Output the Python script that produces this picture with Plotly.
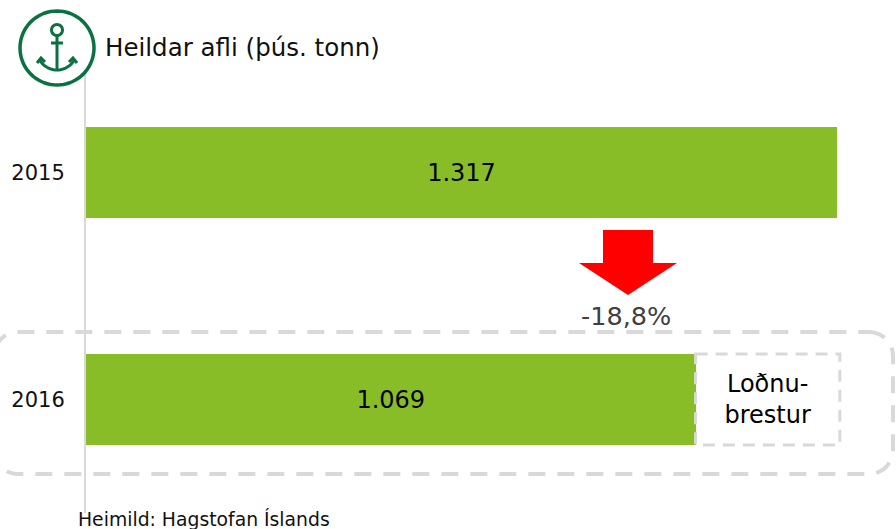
import math
import plotly.graph_objects as go

years = ["2015", "2016"]
catch = [1317, 1069]
catch_labels = ["1.317", "1.069"]
shortfall = [None, 253]
shortfall_labels = ["", "Loðnu-<br>brestur"]
title_text = "Heildar afli (þús. tonn)"
change_text = "-18,8%"
source_text = "Heimild: Hagstofan Íslands"

W, H = 896, 529
L, R, T, B = 86, 0, 59, 16
FONT = "DejaVu Sans, Verdana, sans-serif"
GREEN = "#88bd27"
GREY = "#d9d9d9"
DARK = "#0b7142"
px_per_unit = 751 / 1317


def px(x):
    return (x - L) / (W - L - R)


def py(y):
    return 1 - (y - T) / (H - T - B)


def path(points, close=False):
    s = "M " + " L ".join(f"{px(x):.5f},{py(y):.5f}" for x, y in points)
    return s + (" Z" if close else "")


def rounded(x0, y0, x1, y1, r):
    pts = []
    for cx, cy, a0 in [(x1 - r, y0 + r, -90), (x1 - r, y1 - r, 0), (x0 + r, y1 - r, 90), (x0 + r, y0 + r, 180)]:
        for i in range(13):
            a = math.radians(a0 + i * 7.5)
            pts.append((cx + r * math.cos(a), cy + r * math.sin(a)))
    return path(pts, True)


def arc(cx, cy, r, a0, a1, n=24):
    return [(cx + r * math.cos(math.radians(a0 + (a1 - a0) * i / n)),
             cy + r * math.sin(math.radians(a0 + (a1 - a0) * i / n))) for i in range(n + 1)]


def page_shape(d, color=None, width=0, fill=None, dash=None):
    return dict(type="path", xref="paper", yref="paper", path=d,
                line=dict(color=color or "rgba(0,0,0,0)", width=width, dash=dash),
                fillcolor=fill or "rgba(0,0,0,0)")


fig = go.Figure()
fig.add_bar(y=years, x=catch, orientation="h", marker=dict(color=GREEN, line_width=0),
            text=catch_labels, textposition="inside", insidetextanchor="middle", textangle=0,
            textfont=dict(size=24, color="#000000", family=FONT), hoverinfo="skip")
fig.add_bar(y=years, x=shortfall, orientation="h", marker=dict(color="rgba(255,255,255,0)", line_width=0),
            text=shortfall_labels, textposition="inside", insidetextanchor="middle", textangle=0,
            textfont=dict(size=24, color="#000000", family=FONT), hoverinfo="skip")

shapes = [
    dict(type="rect", xref="x", yref="y", x0=catch[1], x1=catch[1] + shortfall[1], y0=0.8, y1=1.2,
         line=dict(color=GREY, width=3, dash="12px,8px")),
    page_shape(rounded(-6, 332, 893, 474, 24), color=GREY, width=4, dash="17px,12px"),
    page_shape(path([(603, 230), (653, 230), (653, 263), (677, 263), (628, 295), (579, 263), (603, 263)], True),
               fill="#ff0000"),
    page_shape(path(arc(57, 48, 37, 0, 360, 72), True), color=DARK, width=3.5, fill="#ffffff"),
    page_shape(path(arc(57, 30, 5.5, 0, 360, 32), True), color=DARK, width=3),
    page_shape(path([(57, 36), (57, 70)]), color=DARK, width=3),
    page_shape(path([(51, 43), (63, 43)]), color=DARK, width=3),
    page_shape(path(arc(57, 50, 20, 150, 30)), color=DARK, width=3),
    page_shape(path([(37, 63), (41, 58), (45, 62)]), color=DARK, width=3),
    page_shape(path([(69, 62), (73, 58), (77, 63)]), color=DARK, width=3),
]

annotations = [
    dict(text=title_text, xref="paper", yref="paper", x=px(103), y=py(48), xanchor="left", yanchor="middle",
         showarrow=False, font=dict(size=24.5, color="#111111", family=FONT)),
    dict(text=change_text, xref="paper", yref="paper", x=px(626), y=py(316), xanchor="center", yanchor="middle",
         showarrow=False, font=dict(size=25.5, color="#404040", family=FONT)),
    dict(text=source_text, xref="paper", yref="paper", x=px(76), y=py(519), xanchor="left", yanchor="middle",
         showarrow=False, font=dict(size=18.8, color="#111111", family=FONT)),
]

fig.update_layout(
    width=W, height=H, margin=dict(l=L, r=R, t=T, b=B, autoexpand=False),
    paper_bgcolor="white", plot_bgcolor="white", barmode="stack", bargap=0.6, showlegend=False,
    shapes=shapes, annotations=annotations, font=dict(family=FONT),
    xaxis=dict(visible=False, range=[0, (W - L - R) / px_per_unit]),
    yaxis=dict(type="category", categoryorder="array", categoryarray=years, range=[1.5, -0.5],
               showline=True, linecolor=GREY, linewidth=2, showgrid=False, zeroline=False,
               ticks="", ticklabelstandoff=15, tickfont=dict(size=21, color="#111111", family=FONT)),
)

fig.write_html("out.html", config=dict(displayModeBar=False),
               post_script="document.body.style.margin='0';")
